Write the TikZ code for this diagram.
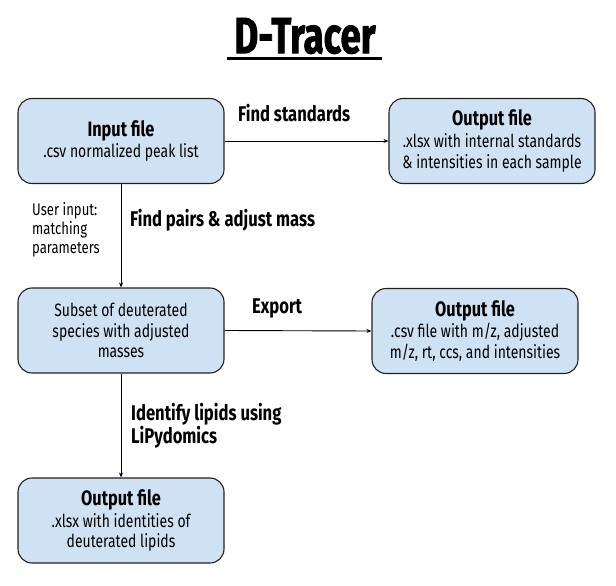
\documentclass[tikz,border=0pt]{standalone}
\usepackage{fontspec}
\setmainfont[FakeStretch=0.78]{Fira Sans}
\newfontfamily\titlefont[FakeStretch=0.72,FakeBold=1.5]{Fira Sans Bold}
\usetikzlibrary{arrows.meta}
\definecolor{boxblue}{HTML}{CFE2F3}
\definecolor{boxline}{HTML}{222222}
\begin{document}
\begin{tikzpicture}[x=1pt,y=-1pt,
  box/.style={draw=boxline, fill=boxblue, line width=1.1pt, rounded corners=14pt,
    minimum width=206pt, minimum height=85pt, align=center, inner sep=0pt,
    font=\fontsize{17.9}{20.8}\selectfont},
  lbl/.style={font=\bfseries\fontsize{21.3}{21.5}\selectfont, anchor=west, align=left, inner sep=0pt},
  note/.style={font=\fontsize{16.8}{18.8}\selectfont, anchor=west, align=left, inner sep=0pt},
  conn/.style={-{Stealth[length=5pt,width=4pt]}, line width=0.9pt}]
\useasboundingbox (0,0) rectangle (616,586);
\node[font=\titlefont\fontsize{51}{51}\selectfont, inner sep=0pt] (title) at (305,36) {D-Tracer};
\draw[line width=3pt] (227,58.5) -- (382,58.5);

\newcommand{\hdr}[1]{{\bfseries\fontsize{20.9}{22}\selectfont #1}}
\node[box] (in) at (121,141) {\hdr{Input file}\\[1pt] .csv normalized peak list};
\node[box] (out1) at (492,141) {\hdr{Output file}\\[1pt] .xlsx with internal standards\\ \& intensities in each sample};
\node[box] (sub) at (121,330.5) {Subset of deuterated\\ species with adjusted\\ masses};
\node[box] (out2) at (475,331) {\hdr{Output file}\\[1pt] .csv file with m/z, adjusted\\ m/z, rt, ccs, and intensities};
\node[box] (out3) at (121,520.5) {\hdr{Output file}\\[1pt] .xlsx with identities of\\ deuterated lipids};

\node[lbl] (l1) at (238,113) {Find standards};
\node[lbl] (l2) at (130,220) {Find pairs \& adjust mass};
\node[note] (n1) at (32,229.5) {User input:\\ matching\\ parameters};
\node[lbl] (l3) at (252,308) {Export};
\node[lbl] (l4) at (131,425.5) {Identify lipids using\\ LiPydomics};

\draw[conn] (in.east) -- (out1.west);
\draw[conn] (in.south) -- (sub.north);
\draw[conn] (sub.east) -- (out2.west);
\draw[conn] (sub.south) -- (out3.north);
\end{tikzpicture}
\end{document}
